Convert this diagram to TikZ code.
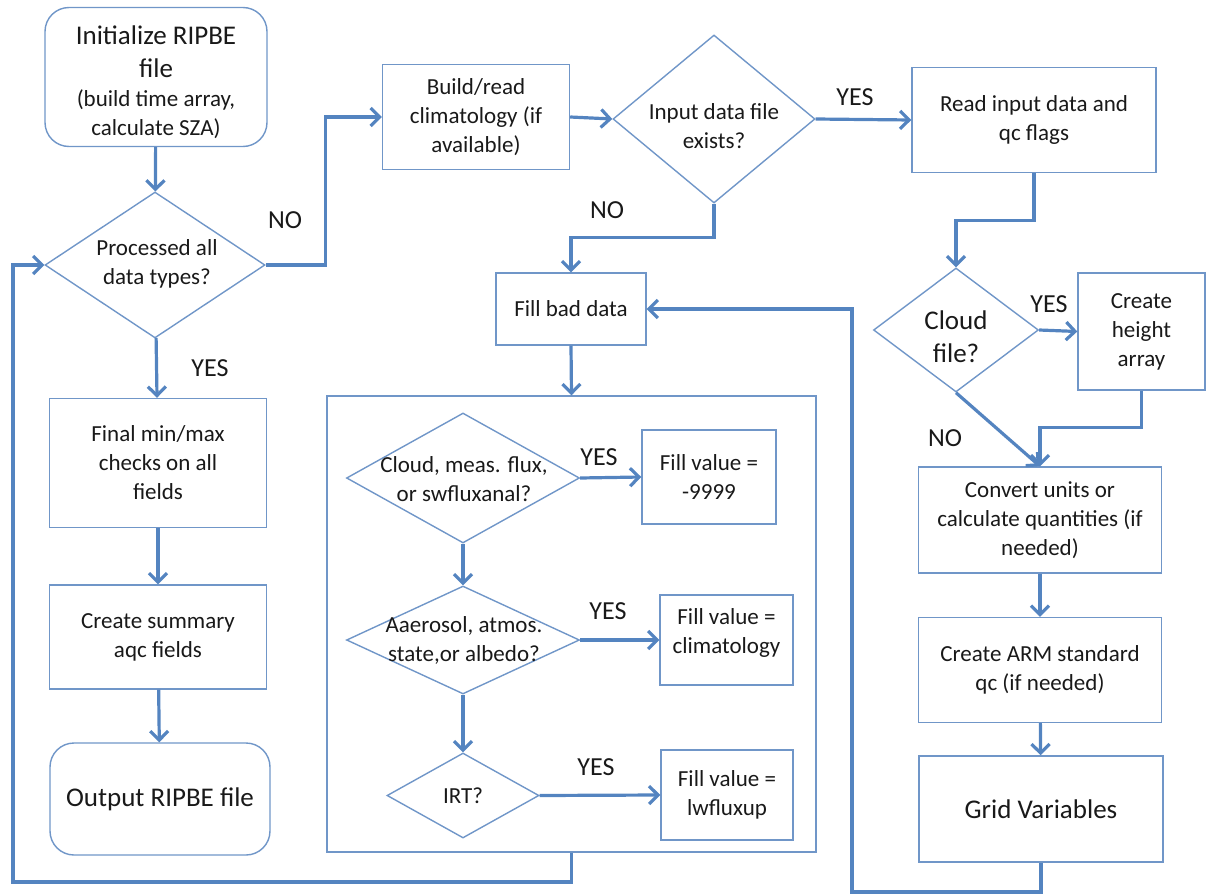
\documentclass[tikz,border=0pt]{standalone}
\usepackage{fontspec}
\setmainfont{Carlito}
\usetikzlibrary{shapes.geometric,arrows.meta}

\definecolor{flowblue}{RGB}{84,132,192}
\definecolor{edgeblue}{RGB}{112,150,200}

\begin{document}
\begin{tikzpicture}[x=1pt,y=-1pt,
    every node/.style={text=black!90,align=center,font=\fontsize{23}{29}\selectfont},
    box/.style={rectangle,draw=edgeblue,line width=1.4pt,inner sep=0pt},
    rbox/.style={box,rounded corners=24pt},
    dia/.style={diamond,draw=edgeblue,line width=1.4pt,inner sep=0pt},
    big/.style={font=\fontsize{27}{33}\selectfont},
    flow/.style={draw=flowblue,line width=3.2pt,-{Straight Barb[length=9pt,width=18pt]}}]
    \useasboundingbox (0,0) rectangle (1211,894);

    \begin{scope}
        \node[rbox,minimum width=222pt,minimum height=139pt] (Init) at (156,77) {};
        \node[big] (InitT) at (156,52) {Initialize RIPBE\\file};
        \node (InitS) at (156,114) {(build time array,\\calculate SZA)};
        \node[dia,minimum width=220pt,minimum height=146pt] (Proc) at (155,265) {};
        \node at (157,264) {Processed all\\data types?};
        \node[box,minimum width=217pt,minimum height=129pt] (Final) at (158,463) {Final min/max\\checks on all\\fields};
        \node[box,minimum width=217pt,minimum height=104pt] (Summ) at (158,637) {Create summary\\aqc fields};
        \node[rbox,big,minimum width=220pt,minimum height=112pt] (Out) at (160,799) {Output RIPBE file};
    \end{scope}

    \begin{scope}
        \node[box,minimum width=187pt,minimum height=105pt] (Build) at (476,117) {Build/read\\climatology (if\\available)};
        \node[dia,minimum width=202pt,minimum height=168pt] (Input) at (714,119) {};
        \node at (714,126) {Input data file\\exists?};
        \node[box,minimum width=150pt,minimum height=72pt] (Fill) at (571,309) {Fill bad data};
        \node[box,minimum width=489pt,minimum height=456pt] (Sub) at (571.5,624) {};
    \end{scope}

    \begin{scope}
        \node[dia,minimum width=233pt,minimum height=130pt] (D1) at (463,478) {};
        \node at (464,479) {Cloud, meas. flux,\\or swfluxanal?};
        \node[box,minimum width=134pt,minimum height=94pt] (F1) at (709,477) {Fill value =\\-9999};
        \node[dia,minimum width=233pt,minimum height=108pt] (D2) at (463,640) {};
        \node at (464,640) {Aaerosol, atmos.\\state,or albedo?};
        \node[box,minimum width=133pt,minimum height=90pt] (F2) at (726.5,640) {Fill value =\\climatology\\[-11pt]};
        \node[dia,minimum width=152pt,minimum height=85pt] (D3) at (463,795.5) {IRT?};
        \node[box,minimum width=132pt,minimum height=90pt] (F3) at (727,795) {Fill value =\\lwfluxup};
    \end{scope}

    \begin{scope}
        \node[box,minimum width=244pt,minimum height=105pt] (Read) at (1034,120) {Read input data and\\qc flags};
        \node[dia,minimum width=165pt,minimum height=124pt] (Cloud) at (956,330) {};
        \node[big] at (956,337) {Cloud\\file?};
        \node[box,minimum width=127pt,minimum height=117pt] (Height) at (1141.5,331.5) {Create\\height\\array};
        \node[box,minimum width=243pt,minimum height=106pt] (Conv) at (1040,520) {Convert units or\\calculate quantities (if\\needed)};
        \node[box,minimum width=243pt,minimum height=105pt] (ARM) at (1040,670) {Create ARM standard\\qc (if needed)};
        \node[box,big,minimum width=244pt,minimum height=106pt] (Grid) at (1041,809) {Grid Variables};
    \end{scope}

    \begin{scope}[every node/.style={text=black!90,font=\fontsize{26}{30}\selectfont}]
        \node (NoProc) at (285,220) {NO};
        \node (YesProc) at (210,368) {YES};
        \node (YesInput) at (855,97) {YES};
        \node (NoInput) at (607,210) {NO};
        \node (YesCloud) at (1049,304) {YES};
        \node (NoCloud) at (945,438) {NO};
        \node (YesD1) at (599,457) {YES};
        \node (YesD2) at (608,611) {YES};
        \node (YesD3) at (596,767) {YES};
    \end{scope}

    \coordinate (LLoop) at (13,882);
    \coordinate (RLoop) at (852,892);

    \begin{scope}
        \draw[flow] (Init) -- (Proc);
        \draw[flow] (Proc) -- (Final);
        \draw[flow] (Final) -- (Summ);
        \draw[flow] (Summ) -- (Out);
        \draw[flow] (Proc.east) -- ++(60,0) |- (Build.west);
        \draw[flow] (Build.east) -- (Input.west);
        \draw[flow] (Input.east) -- (Read.west);
        \draw[flow] (Input.south) -- ++(0,34) -| (Fill.north);
        \draw[flow] (Fill.south) -- (Sub.north);
        \draw[flow] (Sub.south) |- (LLoop) |- (Proc.west);
        \draw[flow] (Read.south) -- ++(0,47) -| (Cloud.north);
        \draw[flow] (Cloud.east) -- (Height.west);
        \draw[flow] (Cloud.south) -- (Conv.north);
        \draw[flow] (Height.south) -- ++(0,37) -| (Conv.north);
        \draw[flow] (Conv) -- (ARM);
        \draw[flow] (ARM) -- (Grid);
        \draw[flow] (Grid.south) |- (RLoop) |- (Fill.east);
    \end{scope}

    \begin{scope}
        \draw[flow] (D1.east) -- (F1.west);
        \draw[flow] (D1.south) -- (D2.north);
        \draw[flow] (D2.east) -- (F2.west);
        \draw[flow] (D2.south) -- (D3.north);
        \draw[flow] (D3.east) -- (F3.west);
    \end{scope}
\end{tikzpicture}
\end{document}
